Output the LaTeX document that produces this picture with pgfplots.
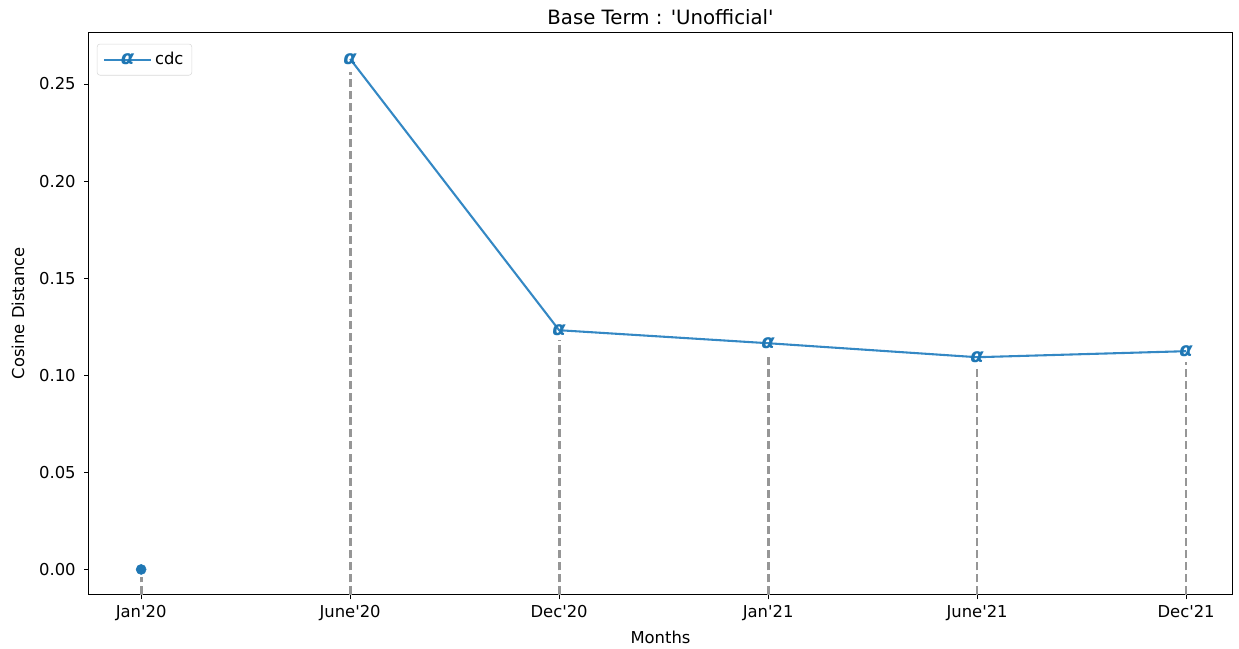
\documentclass[border=0pt]{standalone}
\usepackage{pgfplots}
\pgfplotsset{compat=1.18}
\usepackage{fontspec}
\setmainfont{DejaVu Sans}
\definecolor{tabblue}{RGB}{31,119,180}
\definecolor{lineblue}{RGB}{52,136,196}
\definecolor{stem}{RGB}{150,150,150}
\begin{document}
\begin{tikzpicture}
\begin{axis}[
  name=main,
  scale only axis,
  width=823pt, height=405pt,
  xmin=-0.25, xmax=5.22,
  ymin=-0.0129, ymax=0.2768,
  xtick={0,1,2,3,4,5},
  xticklabels={Jan\textquotesingle20,June\textquotesingle20,Dec\textquotesingle20,Jan\textquotesingle21,June\textquotesingle21,Dec\textquotesingle21},
  ytick={0,0.05,0.1,0.15,0.2,0.25},
  /pgf/number format/assume math mode=true,
  tick align=outside,
  tick pos=left,
  major tick length=3.5pt,
  tick style={black, line width=0.6pt},
  axis line style={line width=0.6pt},
  ticklabel style={font=\fontsize{11.8}{13}\selectfont},
  yticklabel style={xshift=-2.5pt, /pgf/number format/.cd, fixed, fixed zerofill, precision=2},
  xticklabel style={yshift=-1pt},
  xlabel={Months},
  ylabel={Cosine Distance},
  label style={font=\fontsize{11.8}{13}\selectfont},
  xlabel style={at={(axis description cs:0.5,-0.0765)}, anchor=center},
  ylabel style={at={(axis description cs:-0.062,0.5)}, anchor=center},
  title={Base Term : \textquotesingle Unofficial\textquotesingle},
  every axis title shift=0pt,
  title style={font=\fontsize{14.2}{16}\selectfont, inner sep=0pt,
    at={(axis description cs:0.5,1.027)}, anchor=center},
  legend style={font=\fontsize{11.8}{13}\selectfont, draw=black!15, rounded corners=2pt,
    inner xsep=4pt, inner ysep=4pt, at={(0.007,0.979)}, anchor=north west},
  legend cell align=left,
  legend image code/.code={\draw[mark repeat=2,mark phase=2]
    plot coordinates {(0cm,0cm) (0.6cm,0cm) (1.2cm,0cm)};},
]
% dashed stems from the bottom up to each point
\addplot[stem, dash pattern=on 5.8pt off 2.9pt, line width=2pt, unbounded coords=jump, forget plot]
  coordinates {(0,-0.0129) (0,-0.004) (0.5,nan)
               (1,-0.0129) (1,0.256) (1.5,nan)
               (2,-0.0129) (2,0.118) (2.5,nan)
               (3,-0.0129) (3,0.111) (3.5,nan)
               (4,-0.0129) (4,0.104) (4.5,nan)
               (5,-0.0129) (5,0.107)};
\addplot[only marks, mark=*, mark size=3.6pt, tabblue, forget plot]
  coordinates {(0,0)};
\addplot[lineblue, line width=1.5pt, mark=text,
  text mark={\textcolor{tabblue}{\fontsize{14}{14}\selectfont\itshape\bfseries α}}]
  coordinates {(1,0.2629) (2,0.1232) (3,0.1165) (4,0.1093) (5,0.1124)};
\addlegendentry{cdc}
\end{axis}
\path (main.south west) ++(-64pt,-38pt);
\path (main.north east) ++(5pt,23pt);
\end{tikzpicture}
\end{document}
